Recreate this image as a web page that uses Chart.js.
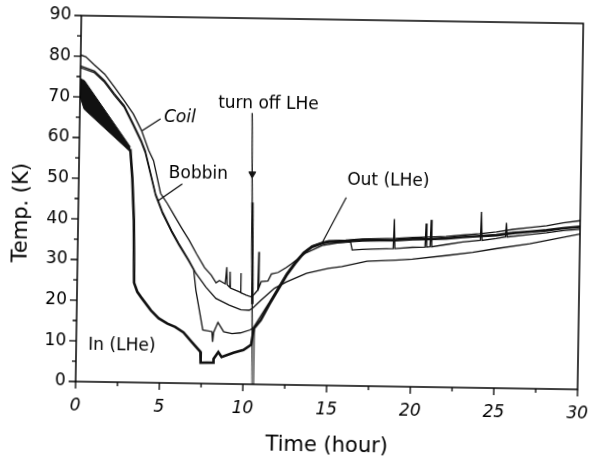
<!DOCTYPE html>
<html>
<head>
<meta charset="utf-8">
<script src="https://cdn.jsdelivr.net/npm/chart.js@4.4.1/dist/chart.umd.min.js"></script>
<style>
    html, body { margin: 0; padding: 0; background: #fff; overflow: hidden; }
    /* a digitalizacao original esta levemente girada */
    #grafico { display: block; transform: rotate(0.9deg); transform-origin: 50% 50%; }
</style>
</head>
<body>
<canvas id="grafico" width="595" height="463"></canvas>
<script>
    // pares [tempo (hora), temperatura (K)]
    const coil = [[0, 80.3], [0.3, 79.9], [0.8, 78], [1.45, 75.7], [2.05, 72.5], [2.65, 69.2], [3.2, 66], [3.7, 62],
        [4.15, 57.1], [4.45, 54.6], [4.9, 46.6], [5.3, 44.2], [5.8, 40.8], [6.2, 38.1], [6.65, 35.2], [7.1, 31.9], [7.6, 28.5],
        [8.0, 26.7], [8.3, 24.8], [8.5, 25.4], [8.85, 24.6], [8.93, 28.7], [8.97, 24.4], [9.1, 23.8], [9.13, 27.6], [9.16, 23.6],
        [9.5, 23], [9.75, 22.6], [9.77, 27.3], [9.8, 22.5], [10.1, 21.9], [10.4, 21.5], [10.6, 22.2], [10.8, 23.2], [10.83, 32.6],
        [10.86, 23.7], [11, 25.3], [11.4, 25.5], [11.6, 27.2], [12, 27.6], [12.5, 28.9], [12.8, 29.8], [13.6, 32.4], [14.6, 34.4],
        [15.5, 35.1], [16.3, 35.4], [16.4, 33.4], [17, 33.6], [18, 33.8], [18.85, 33.9], [18.9, 41.2], [18.95, 33.9], [20, 34.3],
        [20.75, 34.4], [20.8, 40.2], [20.85, 34.4], [21.05, 34.5], [21.1, 41.1], [21.15, 34.5], [22, 35.1], [23, 35.8],
        [24.05, 36.3], [24.1, 43.3], [24.15, 36.3], [25, 36.8], [25.55, 37.2], [25.6, 40.7], [25.65, 37.2], [27, 37.9],
        [28, 38.4], [29, 39], [30, 39.4]];

    const bobbin = [[0, 77.6], [0.84, 76.4], [1.45, 74.1], [2.05, 70.9], [2.65, 68], [3.2, 63.6], [3.7, 59.5], [3.95, 57],
        [4.6, 46.5], [5.03, 42.1], [5.6, 37.5], [6.03, 34.4], [6.65, 30.3], [7.1, 27], [7.7, 23.7], [8.3, 21], [9.1, 19.4],
        [9.8, 18.3], [10.3, 18.2], [10.5, 18.7], [11, 20.7], [11.8, 23.7], [12.5, 25.3], [13.7, 27.5], [15, 28.8], [15.8, 29.3],
        [17.3, 30.7], [19, 31.1], [20, 31.4], [22, 32.4], [23.6, 33.3], [25, 34.3], [27, 35.6], [28, 36.5], [30, 38.2]];

    const outLHe = [[0, 77.2], [0.84, 76], [1.45, 73.7], [2.05, 70.5], [2.65, 67.6], [3.2, 63.2], [3.7, 59.1], [3.95, 56.5],
        [4.6, 46.1], [5.03, 41.7], [5.6, 37.1], [6.03, 34], [6.65, 30], [6.95, 27.9], [7.1, 22.9], [7.55, 13.2], [8.1, 12.8],
        [8.15, 10.3], [8.2, 12.6], [8.45, 15.1], [8.8, 12.8], [9.3, 12.4], [9.8, 12.6], [10.4, 13.4], [10.6, 14.1], [11, 16.8],
        [11.5, 20.2], [12, 23.8], [12.5, 27.4], [13, 30.3], [13.5, 32.7], [14, 34.3], [14.6, 35.2], [15, 35.6], [16, 35.8],
        [17, 36.2], [18, 36.3], [19, 36.4], [20, 36.7], [21, 36.9], [22, 37.1], [23, 37.5], [24, 37.9], [25, 38.4], [26, 39.1],
        [27, 39.6], [28, 40.1], [29, 40.9], [30, 41.5]];

    const inLHe = [[3.05, 57.4], [3.2, 50.2], [3.33, 39.8], [3.4, 24.5], [3.6, 22.3], [3.83, 21], [4.43, 17.8], [4.9, 15.9],
        [5.43, 14.6], [5.9, 13.8], [6.4, 12.5], [6.9, 10.2], [7.43, 7.8], [7.45, 5.1], [8.2, 5.2], [8.22, 6.1], [8.5, 7.8],
        [8.7, 6.6], [9.4, 7.7], [10, 8.4], [10.45, 9.7], [10.6, 13.7], [11, 15.8], [11.5, 19.7], [12, 23.3], [12.5, 26.9],
        [13, 29.8], [13.5, 32.4], [14, 34], [14.6, 34.9], [15, 35.3], [16, 35.5], [17, 35.8], [18, 35.9], [19, 36],
        [20, 36.3], [21, 36.4], [22, 36.6], [23, 37], [24, 37.3], [25, 37.6], [26, 38.2], [27, 38.6], [28, 39],
        [29, 39.6], [30, 40]];

    // faixa ruidosa do sensor In (LHe) no inicio: borda de cima e de baixo
    const inFaixaCima = [[0, 74.5], [0.25, 74], [3.05, 57.9]];
    const inFaixaBaixo = [[0, 70], [0.25, 67], [3.05, 56.7]];

    // marcador "turn off LHe"
    const desligaLinha = [[10.3, 66.7], [10.55, 0]];
    const desligaGrossa = [[10.4, 44.7], [10.49, 19.7]];
    const desligaCinza = [[10.6, 13.7], [10.6, 0]];
    const desligaSeta = [[10.36, 51.7]];

    // ticks dos eixos
    const ticksTempo = [0, 5, 10, 15, 20, 25, 30];
    const ticksTemp = [0, 10, 20, 30, 40, 50, 60, 70, 80, 90];

    function pontos(pares) {
        return pares.map(p => ({ x: p[0], y: p[1] }));
    }

    function linha(pares, largura, cor) {
        return {
            data: pontos(pares),
            borderColor: cor || '#111',
            borderWidth: largura,
            pointRadius: 0,
            fill: false,
            tension: 0
        };
    }

    let dados = {
        datasets: [
            linha(inFaixaCima, 1),
            Object.assign(linha(inFaixaBaixo, 1), { fill: '-1', backgroundColor: '#111' }),
            linha(coil, 1.3),
            linha(bobbin, 1.3),
            linha(outLHe, 1.3),
            linha(inLHe, 2.6),
            linha(desligaCinza, 3, '#808080'),
            linha(desligaLinha, 1.3),
            linha(desligaGrossa, 2.4),
            {
                data: pontos(desligaSeta),
                showLine: false,
                pointStyle: 'triangle',
                rotation: 180,
                pointRadius: 4,
                backgroundColor: '#111',
                borderColor: '#111',
                borderWidth: 1
            }
        ]
    };

    // textos e setinhas de indicacao (coordenadas em hora / K)
    const notas = [
        { texto: 'Coil', t: 5.03, K: 65.2, alinhar: 'left', italico: true },
        { texto: 'Bobbin', t: 5.37, K: 51.6, alinhar: 'left' },
        { texto: 'turn off LHe', t: 11.26, K: 69, alinhar: 'center' },
        { texto: 'Out (LHe)', t: 18.5, K: 50.5, alinhar: 'center' },
        { texto: 'In (LHe)', t: 2.73, K: 9, alinhar: 'center' }
    ];
    const setas = [
        [[4.83, 64.9], [3.73, 61.9]],
        [[6.19, 49], [4.73, 44.7]],
        [[16.0, 46.3], [14.62, 35.2]]
    ];

    const fonte = '"DejaVu Sans", sans-serif';

    const pluginMoldura = {
        id: 'moldura',
        afterDraw(chart) {
            const ctx = chart.ctx;
            const a = chart.chartArea;
            const sx = chart.scales.x;
            const sy = chart.scales.y;
            ctx.save();
            ctx.strokeStyle = '#000';
            ctx.lineWidth = 1.5;
            ctx.strokeRect(a.left, a.top, a.right - a.left, a.bottom - a.top);

            // ticks maiores e menores, para fora
            ctx.lineWidth = 1.3;
            ctx.beginPath();
            for (let i = 0; i < ticksTempo.length; i++) {
                let px = sx.getPixelForValue(ticksTempo[i]);
                ctx.moveTo(px, a.bottom); ctx.lineTo(px, a.bottom + 7);
                if (i < ticksTempo.length - 1) {
                    let pm = sx.getPixelForValue((ticksTempo[i] + ticksTempo[i + 1]) / 2);
                    ctx.moveTo(pm, a.bottom); ctx.lineTo(pm, a.bottom + 4);
                }
            }
            for (let i = 0; i < ticksTemp.length; i++) {
                let py = sy.getPixelForValue(ticksTemp[i]);
                ctx.moveTo(a.left, py); ctx.lineTo(a.left - 7, py);
                if (i < ticksTemp.length - 1) {
                    let pm = sy.getPixelForValue((ticksTemp[i] + ticksTemp[i + 1]) / 2);
                    ctx.moveTo(a.left, pm); ctx.lineTo(a.left - 4, pm);
                }
            }
            ctx.stroke();

            // setinhas
            ctx.lineWidth = 1.1;
            ctx.beginPath();
            setas.forEach(s => {
                ctx.moveTo(sx.getPixelForValue(s[0][0]), sy.getPixelForValue(s[0][1]));
                ctx.lineTo(sx.getPixelForValue(s[1][0]), sy.getPixelForValue(s[1][1]));
            });
            ctx.stroke();

            // textos
            ctx.fillStyle = '#000';
            ctx.textBaseline = 'middle';
            notas.forEach(n => {
                ctx.font = (n.italico ? 'italic ' : '') + '17px ' + fonte;
                ctx.textAlign = n.alinhar;
                ctx.fillText(n.texto, sx.getPixelForValue(n.t), sy.getPixelForValue(n.K));
            });

            // titulos dos eixos
            ctx.font = '21px ' + fonte;
            ctx.textAlign = 'center';
            ctx.fillText('Time (hour)', (a.left + a.right) / 2 + 1, 446);
            ctx.translate(22, 217);
            ctx.rotate(-Math.PI / 2);
            ctx.fillText('Temp. (K)', 0, 0);
            ctx.restore();
        }
    };

    // sem folgas automaticas: a area do grafico fica onde a moldura deve ficar
    function semFolga(s) {
        s.paddingLeft = 0;
        s.paddingRight = 0;
        s.paddingTop = 0;
        s.paddingBottom = 0;
    }

    const config = {
        type: 'line',
        data: dados,
        options: {
            responsive: false,
            animation: false,
            layout: { padding: { top: 19, right: 15, left: 0, bottom: 0 } },
            plugins: { legend: { display: false }, tooltip: { enabled: false } },
            scales: {
                x: {
                    type: 'linear',
                    min: 0,
                    max: 30,
                    afterBuildTicks: s => { s.ticks = ticksTempo.map(v => ({ value: v })); },
                    ticks: {
                        color: '#000',
                        padding: 14,
                        maxRotation: 0,
                        autoSkip: false,
                        font: { family: fonte, size: 17, style: 'italic' }
                    },
                    grid: { display: false, drawTicks: false },
                    border: { display: false },
                    afterFit: s => { s.height = 78; semFolga(s); }
                },
                y: {
                    type: 'linear',
                    min: 0,
                    max: 90,
                    afterBuildTicks: s => { s.ticks = ticksTemp.map(v => ({ value: v })); },
                    ticks: {
                        color: '#000',
                        padding: 10,
                        autoSkip: false,
                        font: { family: fonte, size: 17 }
                    },
                    grid: { display: false, drawTicks: false },
                    border: { display: false },
                    afterFit: s => { s.width = 78; semFolga(s); }
                }
            }
        },
        plugins: [pluginMoldura]
    };

    let myChart = new Chart(document.getElementById('grafico'), config);
</script>
</body>
</html>
